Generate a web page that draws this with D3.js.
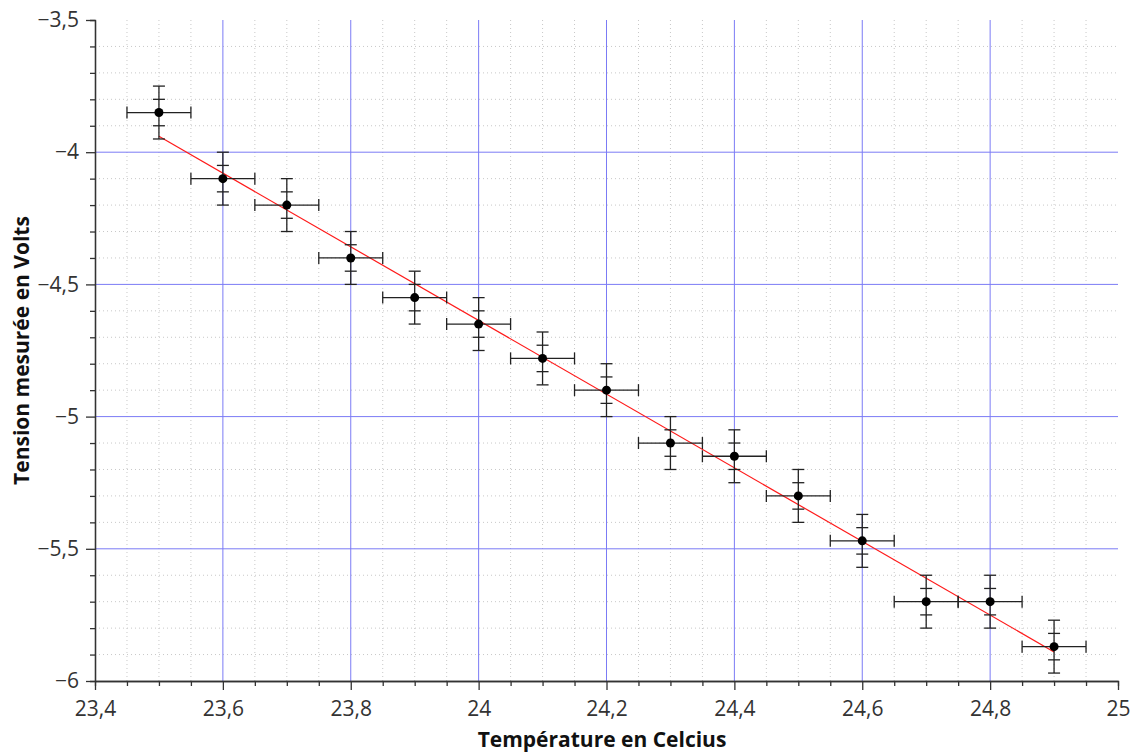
<!DOCTYPE html>
<html>
<head>
<meta charset="utf-8">
<script src="https://cdn.jsdelivr.net/npm/d3@7"></script>
<style>
  body { margin: 0; background: #fff; }
  text { font-family: "Open Sans", "Noto Sans", sans-serif; fill: #333; }
</style>
</head>
<body>
<svg id="chart"></svg>
<script>
// temperature (x) and measured voltage (y)
const TEMPS = [23.5, 23.6, 23.7, 23.8, 23.9, 24.0, 24.1, 24.2, 24.3, 24.4, 24.5, 24.6, 24.7, 24.8, 24.9];
const VOLTS = [-3.85, -4.10, -4.20, -4.40, -4.55, -4.65, -4.78, -4.90, -5.10, -5.15, -5.30, -5.47, -5.70, -5.70, -5.87];
const X_ERR = 0.05;
const Y_ERR = [0.1, 0.05];
// fitted line end points
const FIT_X = [23.5, 24.9];
const FIT_Y = [-3.94, -5.89];

const X_TICKS = [23.4, 23.6, 23.8, 24.0, 24.2, 24.4, 24.6, 24.8, 25.0];
const Y_TICKS = [-3.5, -4, -4.5, -5, -5.5, -6];

const WIDTH = 1134, HEIGHT = 754;
const M = {top: 20, right: 16, bottom: 73, left: 95};

const svg = d3.select('#chart').attr('width', WIDTH).attr('height', HEIGHT);
const g = svg.append('g').attr('transform', `translate(${M.left},${M.top})`);
const W = WIDTH - M.left - M.right, H = HEIGHT - M.top - M.bottom;

const x = d3.scaleLinear().domain([23.4, 25]).range([0, W]);
const y = d3.scaleLinear().domain([-6, -3.5]).range([H, 0]);

const loc = d3.formatLocale({decimal: ',', thousands: ' ', grouping: [3], currency: ['', ''], minus: '\u2212'});
const fmt = loc.format('~g');

const xMinor = d3.range(0, 33).map(i => 23.4 + i * 0.05).filter(v => !X_TICKS.some(t => Math.abs(t - v) < 1e-6));
const yMinor = d3.range(0, 26).map(i => -6 + i * 0.1).filter(v => !Y_TICKS.some(t => Math.abs(t - v) < 1e-6));

/* minor grid */
g.append('g').selectAll('line').data(xMinor).enter().append('line')
  .attr('x1', d => x(d)).attr('x2', d => x(d)).attr('y1', 0).attr('y2', H)
  .attr('stroke', '#c8c8c8').attr('stroke-dasharray', '1,3');
g.append('g').selectAll('line').data(yMinor).enter().append('line')
  .attr('y1', d => y(d)).attr('y2', d => y(d)).attr('x1', 0).attr('x2', W)
  .attr('stroke', '#c8c8c8').attr('stroke-dasharray', '1,3');

/* major grid */
g.append('g').selectAll('line').data(X_TICKS.slice(1, -1)).enter().append('line')
  .attr('x1', d => x(d)).attr('x2', d => x(d)).attr('y1', 0).attr('y2', H)
  .attr('stroke', '#7b7bf5').attr('stroke-width', 1);
g.append('g').selectAll('line').data(Y_TICKS.slice(1, -1)).enter().append('line')
  .attr('y1', d => y(d)).attr('y2', d => y(d)).attr('x1', 0).attr('x2', W)
  .attr('stroke', '#7b7bf5').attr('stroke-width', 1);

/* axes */
function styleAxis(sel) {
  sel.select('.domain').attr('stroke', '#333').attr('stroke-width', 1.3);
  sel.selectAll('.tick line').attr('stroke', '#333').attr('stroke-width', 1.3);
  sel.selectAll('text').style('font-size', '21px').style('fill', '#333');
}
const xAxisMinor = g.append('g').attr('transform', `translate(0,${H})`)
  .call(d3.axisBottom(x).tickValues(xMinor).tickSize(5).tickFormat(''));
styleAxis(xAxisMinor);
const xAxis = g.append('g').attr('transform', `translate(0,${H})`)
  .call(d3.axisBottom(x).tickValues(X_TICKS).tickSize(9).tickSizeOuter(0).tickPadding(11).tickFormat(fmt));
styleAxis(xAxis);

const yAxisMinor = g.append('g')
  .call(d3.axisLeft(y).tickValues(yMinor).tickSize(5).tickFormat(''));
styleAxis(yAxisMinor);
const yAxis = g.append('g')
  .call(d3.axisLeft(y).tickValues(Y_TICKS).tickSize(9).tickSizeOuter(0).tickPadding(7).tickFormat(fmt));
styleAxis(yAxis);

/* fit line */
g.append('line')
  .attr('x1', x(FIT_X[0])).attr('y1', y(FIT_Y[0]))
  .attr('x2', x(FIT_X[1])).attr('y2', y(FIT_Y[1]))
  .attr('stroke', '#ff1a1a').attr('stroke-width', 1.2);

/* error bars */
const pts = TEMPS.map((t, i) => ({t: t, v: VOLTS[i]}));
const eb = g.append('g').attr('stroke', '#222').attr('stroke-width', 1.3);
const CAP = 6;
pts.forEach(p => {
  const cx = x(p.t), cy = y(p.v);
  // horizontal
  eb.append('line').attr('x1', x(p.t - X_ERR)).attr('x2', x(p.t + X_ERR)).attr('y1', cy).attr('y2', cy);
  [p.t - X_ERR, p.t + X_ERR].forEach(e => {
    eb.append('line').attr('x1', x(e)).attr('x2', x(e)).attr('y1', cy - CAP).attr('y2', cy + CAP);
  });
  // vertical
  eb.append('line').attr('x1', cx).attr('x2', cx).attr('y1', y(p.v + Y_ERR[0])).attr('y2', y(p.v - Y_ERR[0]));
  Y_ERR.forEach(err => {
    [p.v - err, p.v + err].forEach(e => {
      eb.append('line').attr('x1', cx - CAP).attr('x2', cx + CAP).attr('y1', y(e)).attr('y2', y(e));
    });
  });
});

/* points */
g.append('g').selectAll('circle').data(pts).enter().append('circle')
  .attr('cx', d => x(d.t)).attr('cy', d => y(d.v)).attr('r', 4.5).attr('fill', '#000');

/* axis titles */
svg.append('text')
  .attr('x', 602).attr('y', 747)
  .attr('text-anchor', 'middle')
  .style('font-size', '21px').style('font-weight', 'bold').style('fill', '#111')
  .text('Température en Celcius');
svg.append('text')
  .attr('transform', `translate(29,${M.top + H / 2}) rotate(-90)`)
  .attr('text-anchor', 'middle')
  .style('font-size', '21px').style('font-weight', 'bold').style('fill', '#111')
  .text('Tension mesurée en Volts');
</script>
</body>
</html>
